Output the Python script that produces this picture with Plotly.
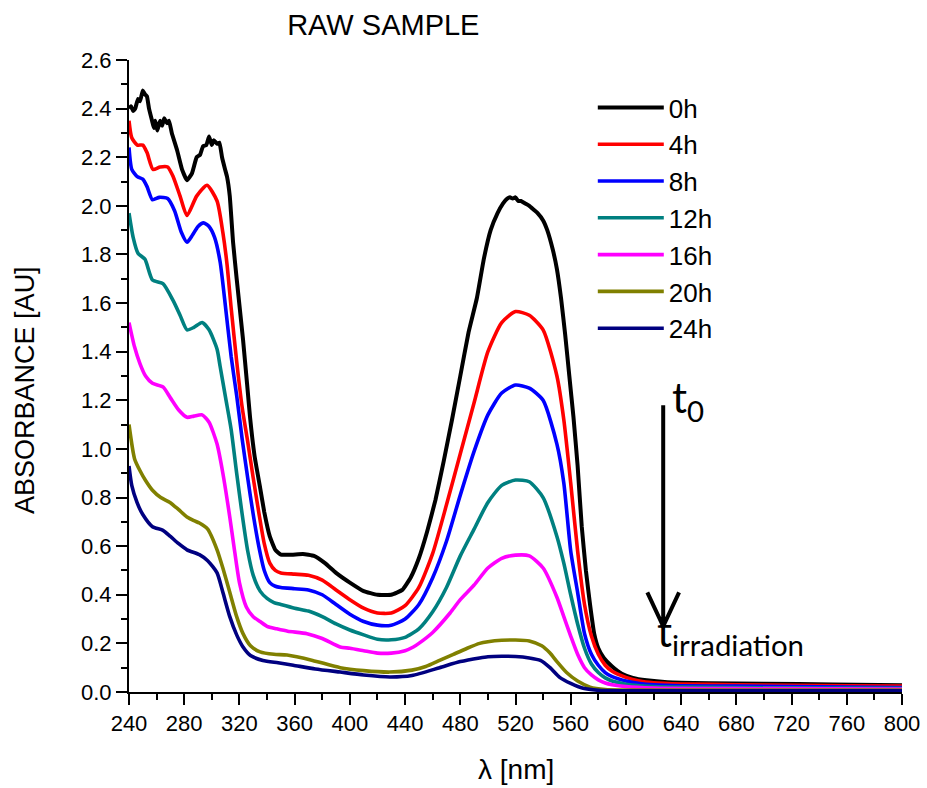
import plotly.graph_objects as go

# UV-Vis absorbance spectra of the raw sample at successive irradiation times

# 0 h (noisy instrument trace in the UV region and around the visible band)
WL_0H = [240, 241.5, 243, 244.5, 246.5, 248, 250, 251.5, 253, 254.5, 256.7, 258, 259, 260.5,
         262.5, 264, 265.5, 267.5, 269, 271, 274.8, 278.4, 282, 285.7, 289, 291.5, 293.6, 296,
         298, 300, 301.5, 303.8, 305.5, 307.4, 309.6, 311, 313, 315.4, 318, 322.6, 325.5, 327.7,
         331, 335, 338, 342, 346, 350, 358, 366, 374, 382, 390, 400, 410, 420, 430, 438, 444,
         450, 456, 462, 468, 474, 480, 486, 492, 497, 502, 507, 511, 514, 516, 518, 520, 522,
         524, 527, 530, 533, 536, 540, 543, 547, 550, 553, 556, 559, 562, 565, 568, 571, 574,
         577, 580, 584, 590, 597, 605, 615, 630, 660, 700, 750, 800]
A_0H = [2.40, 2.41, 2.39, 2.40, 2.44, 2.43, 2.475, 2.46, 2.45, 2.40, 2.35, 2.32, 2.35, 2.31,
        2.35, 2.33, 2.36, 2.34, 2.35, 2.30, 2.23, 2.15, 2.105, 2.135, 2.20, 2.21, 2.245, 2.25,
        2.285, 2.25, 2.27, 2.255, 2.26, 2.20, 2.15, 2.12, 2.04, 1.85, 1.70, 1.45, 1.27, 1.13,
        0.97, 0.84, 0.74, 0.64, 0.585, 0.565, 0.565, 0.568, 0.56, 0.53, 0.49, 0.45, 0.415,
        0.40, 0.40, 0.42, 0.47, 0.55, 0.66, 0.79, 0.95, 1.12, 1.30, 1.48, 1.62, 1.78, 1.90,
        1.97, 2.01, 2.03, 2.035, 2.03, 2.035, 2.02, 2.02, 2.01, 2.00, 1.985, 1.97, 1.94, 1.90,
        1.82, 1.74, 1.62, 1.47, 1.30, 1.13, 0.93, 0.68, 0.50, 0.36, 0.24, 0.18, 0.14, 0.105,
        0.075, 0.058, 0.048, 0.040, 0.036, 0.034, 0.031, 0.028]

WL_4H = [240, 242, 246, 250, 253, 257.4, 262.5, 268, 272, 277, 282, 289, 296.5, 303.8, 308,
         311, 314, 318, 322, 326, 330, 334, 338, 342, 346, 350, 360, 370, 380, 390, 400, 410,
         420, 430, 440, 450, 460, 470, 480, 490, 500, 510, 520, 530, 540, 550, 555, 560, 565,
         570, 575, 580, 585, 590, 600, 610, 620, 640, 680, 720, 760, 800]
A_4H = [2.35, 2.28, 2.25, 2.25, 2.22, 2.15, 2.16, 2.16, 2.12, 2.04, 1.96, 2.04, 2.085, 2.02,
        1.89, 1.76, 1.58, 1.36, 1.17, 1.03, 0.88, 0.74, 0.61, 0.53, 0.50, 0.49, 0.485, 0.48,
        0.46, 0.42, 0.38, 0.345, 0.325, 0.325, 0.355, 0.43, 0.57, 0.77, 0.98, 1.19, 1.40,
        1.52, 1.565, 1.55, 1.49, 1.30, 1.12, 0.86, 0.58, 0.36, 0.23, 0.155, 0.11, 0.085,
        0.06, 0.045, 0.038, 0.033, 0.030, 0.028, 0.026, 0.024]

WL_8H = [240, 242, 246, 250, 253, 257, 262, 268, 273, 278, 282, 286, 290, 294, 298, 302, 306,
         310, 314, 318, 322, 326, 330, 334, 338, 342, 346, 350, 360, 370, 380, 390, 400, 410,
         420, 430, 440, 450, 460, 470, 480, 490, 500, 510, 520, 530, 540, 550, 555, 560, 565,
         570, 575, 580, 585, 590, 600, 610, 620, 640, 680, 720, 760, 800]
A_8H = [2.24, 2.15, 2.12, 2.11, 2.08, 2.025, 2.035, 2.03, 1.98, 1.89, 1.85, 1.88, 1.915, 1.93,
        1.915, 1.87, 1.77, 1.58, 1.38, 1.22, 1.04, 0.88, 0.73, 0.60, 0.50, 0.45, 0.435, 0.43,
        0.425, 0.42, 0.40, 0.36, 0.32, 0.29, 0.275, 0.275, 0.30, 0.36, 0.47, 0.62, 0.81, 0.99,
        1.14, 1.23, 1.263, 1.25, 1.20, 1.02, 0.86, 0.58, 0.41, 0.24, 0.155, 0.11, 0.08, 0.063,
        0.045, 0.035, 0.030, 0.026, 0.024, 0.022, 0.020, 0.018]

WL_12H = [240, 243, 246.5, 251.6, 257, 264.6, 272, 277, 282, 287, 293, 298, 303.8, 306, 310,
          314, 318, 322, 326, 330, 335, 340, 345, 350, 360, 370, 380, 390, 400, 410, 420, 430,
          440, 450, 460, 470, 480, 490, 500, 510, 520, 530, 540, 550, 555, 560, 565, 570, 575,
          580, 585, 590, 600, 610, 620, 640, 680, 720, 760, 800]
A_12H = [1.97, 1.87, 1.805, 1.78, 1.695, 1.68, 1.61, 1.55, 1.49, 1.50, 1.52, 1.49, 1.41, 1.34,
         1.21, 1.08, 0.90, 0.73, 0.58, 0.48, 0.415, 0.385, 0.368, 0.36, 0.345, 0.333, 0.31,
         0.28, 0.255, 0.235, 0.217, 0.215, 0.225, 0.26, 0.33, 0.43, 0.56, 0.67, 0.78, 0.85,
         0.872, 0.865, 0.80, 0.64, 0.53, 0.40, 0.28, 0.18, 0.115, 0.08, 0.058, 0.045, 0.032,
         0.026, 0.022, 0.020, 0.018, 0.017, 0.016, 0.015]

WL_16H = [240, 244, 248, 252, 257, 264.6, 270, 276, 282, 287, 293, 298, 303.8, 308, 313, 316,
          320, 325, 330, 335, 340, 347, 355, 369, 380, 393, 400, 410, 420, 430, 440, 446, 450,
          460, 472.6, 480, 490, 500, 510, 520, 530, 540, 550, 555, 560, 565, 570, 575, 580,
          585, 590, 600, 620, 680, 800]
A_16H = [1.52, 1.42, 1.35, 1.30, 1.27, 1.255, 1.21, 1.16, 1.13, 1.135, 1.14, 1.11, 1.02, 0.90,
         0.72, 0.60, 0.45, 0.35, 0.31, 0.29, 0.27, 0.26, 0.25, 0.24, 0.22, 0.185, 0.18, 0.17,
         0.16, 0.16, 0.17, 0.185, 0.20, 0.245, 0.325, 0.38, 0.44, 0.51, 0.55, 0.563, 0.56,
         0.51, 0.39, 0.31, 0.23, 0.155, 0.10, 0.07, 0.05, 0.037, 0.030, 0.022, 0.016, 0.014,
         0.012]

WL_20H = [240, 244, 248, 252, 257, 263, 269.7, 276, 282, 287, 291, 297, 303.8, 308, 313, 318,
          322.6, 328, 335, 345, 354.5, 373, 393, 410, 429, 445, 455, 465, 475, 485, 494, 500,
          510, 520, 530, 539, 545, 550, 557, 565, 574, 585, 600, 800]
A_20H = [1.10, 0.96, 0.91, 0.87, 0.83, 0.80, 0.78, 0.75, 0.72, 0.705, 0.695, 0.67, 0.585,
         0.51, 0.41, 0.31, 0.24, 0.19, 0.165, 0.155, 0.152, 0.13, 0.10, 0.088, 0.082, 0.09,
         0.105, 0.13, 0.155, 0.18, 0.20, 0.207, 0.213, 0.214, 0.21, 0.19, 0.16, 0.125, 0.08,
         0.045, 0.02, 0.01, 0.008, 0.008]

WL_24H = [240, 242, 245.8, 250, 257, 264.6, 270, 276, 282, 291, 297, 303.8, 308, 313, 318,
          322.6, 328, 337, 348, 359, 375, 393, 410, 429, 445, 465, 480, 494, 500, 510, 520,
          530, 538, 545, 552, 560, 569, 580, 600, 800]
A_24H = [0.93, 0.85, 0.78, 0.73, 0.68, 0.665, 0.64, 0.61, 0.585, 0.565, 0.54, 0.49, 0.41,
         0.31, 0.235, 0.185, 0.15, 0.13, 0.12, 0.11, 0.095, 0.082, 0.07, 0.062, 0.068, 0.10,
         0.125, 0.14, 0.145, 0.147, 0.146, 0.14, 0.13, 0.10, 0.06, 0.035, 0.015, 0.007, 0.005,
         0.005]

LABELS = ["0h", "4h", "8h", "12h", "16h", "20h", "24h"]
COLORS = ["#000000", "#FF0000", "#0000FF", "#008080", "#FF00FF", "#808000", "#000080"]

X_TICKS = list(range(240, 801, 40))
Y_TICKS = [round(0.2 * i, 1) for i in range(14)]

series = [
    (WL_0H, A_0H), (WL_4H, A_4H), (WL_8H, A_8H), (WL_12H, A_12H),
    (WL_16H, A_16H), (WL_20H, A_20H), (WL_24H, A_24H),
]

AXIS_FONT = "Liberation Sans, Arial, sans-serif"
NOTE_FONT = "Lato, Open Sans, sans-serif"

fig = go.Figure()
for i, ((wl, a), name, color) in enumerate(zip(series, LABELS, COLORS)):
    fig.add_trace(go.Scatter(
        x=wl, y=a, mode="lines", name=name, legendgroup=name,
        line=dict(color=color, width=4 if i == 0 else 3.6,
                  shape="spline", smoothing=0.35 if i == 0 else 0.6),
    ))

axis_common = dict(
    showline=True, linecolor="black", linewidth=2, mirror=False,
    showgrid=False, zeroline=False, automargin=False,
    ticks="outside", ticklen=11, tickwidth=2, tickcolor="black",
    tickfont=dict(family=AXIS_FONT, size=22, color="black"),
)

fig.update_xaxes(range=[240, 800], tickvals=X_TICKS,
                 minor=dict(ticks="outside", ticklen=6, tickwidth=2, tickcolor="black", dtick=20),
                 **axis_common)
fig.update_yaxes(range=[0, 2.6], tickvals=Y_TICKS, tickformat=".1f",
                 minor=dict(ticks="outside", ticklen=6, tickwidth=2, tickcolor="black", dtick=0.1),
                 **axis_common)

# Arrow marking the evolution from t0 to the end of irradiation
arrow_x, arrow_top, arrow_tip, arm_dx, arm_y = 627, 1.18, 0.27, 11.5, 0.41
fig.add_shape(
    type="path", xref="x", yref="y",
    path=(f"M{arrow_x},{arrow_top} L{arrow_x},{arrow_tip} "
          f"M{arrow_x - arm_dx},{arm_y} L{arrow_x},{arrow_tip} L{arrow_x + arm_dx},{arm_y}"),
    line=dict(color="black", width=4),
)
fig.add_annotation(x=632, y=1.20, xref="x", yref="y", text="t<sub>0</sub>",
                   showarrow=False, xanchor="left", yanchor="middle",
                   font=dict(family=NOTE_FONT, size=42, color="black"))
fig.add_annotation(x=621, y=0.24, xref="x", yref="y", text="t<sub>irradiation</sub>",
                   showarrow=False, xanchor="left", yanchor="middle",
                   font=dict(family=NOTE_FONT, size=42, color="black"))

# Axis titles
fig.add_annotation(x=-0.1345, y=0.478, xref="paper", yref="paper", text="ABSORBANCE [AU]",
                   textangle=-90, showarrow=False, xanchor="center", yanchor="middle",
                   font=dict(family=AXIS_FONT, size=27, color="black"))
fig.add_annotation(x=0.5, y=-0.123, xref="paper", yref="paper", text="λ [nm]",
                   showarrow=False, xanchor="center", yanchor="middle",
                   font=dict(family=AXIS_FONT, size=28, color="black"))

fig.update_layout(
    width=927, height=788,
    margin=dict(l=129, r=25, t=60, b=96),
    paper_bgcolor="white", plot_bgcolor="white",
    title=dict(text="RAW SAMPLE", x=0.329, xref="paper", xanchor="center",
               y=1 - 25 / 788, yanchor="middle",
               font=dict(family=AXIS_FONT, size=29, color="black")),
    legend=dict(x=0.6, y=0.962, xanchor="left", yanchor="top",
                font=dict(family=AXIS_FONT, size=26, color="black"),
                bgcolor="rgba(0,0,0,0)", tracegroupgap=0, itemwidth=66),
    showlegend=True,
)

fig.write_html("out.html")
